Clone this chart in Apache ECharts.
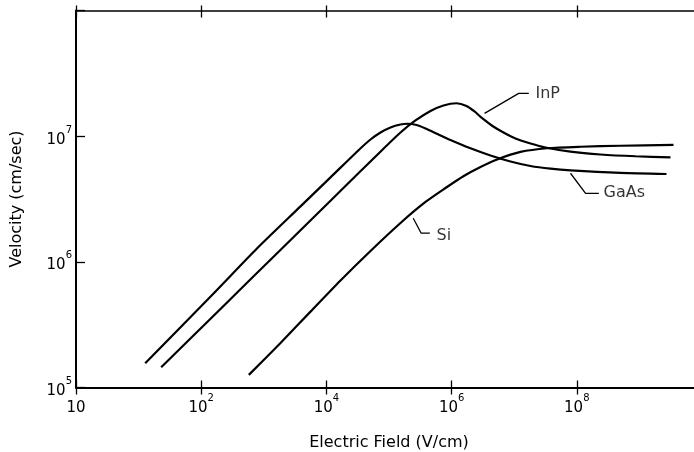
<!DOCTYPE html>
<html>
<head>
<meta charset="utf-8">
<script src="https://cdn.jsdelivr.net/npm/echarts@6/dist/echarts.min.js"></script>
<style>
html,body{margin:0;padding:0;background:#fff;}
#chart{width:694px;height:452px;}
</style>
</head>
<body>
<div id="chart"></div>
<script>
// ---- Data (Electric field V/cm, velocity cm/s) ----
const gaasE = [12.75, 159, 784.6, 3858, 1.163e4, 3.293e4, 5.064e4, 7.315e4, 1.057e5, 1.527e5, 1.975e5, 2.65e5, 3.83e5, 5.955e5, 9.60e5, 2.004e6, 4.18e6, 8.73e6, 1.821e7, 3.80e7, 7.93e7, 4.99e8, 2.71e9];
const gaasV = [1.561e5, 5.63e5, 1.283e6, 2.764e6, 4.70e6, 7.77e6, 9.41e6, 1.070e7, 1.173e7, 1.239e7, 1.255e7, 1.232e7, 1.152e7, 1.041e7, 9.33e6, 8.01e6, 7.02e6, 6.29e6, 5.79e6, 5.51e6, 5.34e6, 5.10e6, 5.00e6];

const inpE = [22.96, 203.3, 1967, 1.163e4, 7.79e4, 1.527e5, 2.65e5, 4.60e5, 7.42e5, 1.198e6, 1.730e6, 2.322e6, 3.116e6, 4.50e6, 6.75e6, 1.049e7, 1.821e7, 3.162e7, 7.93e7, 2.391e8, 8.66e8, 3.14e9];
const inpV = [1.450e5, 4.22e5, 1.283e6, 3.063e6, 7.77e6, 1.070e7, 1.333e7, 1.587e7, 1.755e7, 1.827e7, 1.739e7, 1.572e7, 1.383e7, 1.205e7, 1.070e7, 9.59e6, 8.75e6, 8.13e6, 7.53e6, 7.15e6, 6.92e6, 6.79e6];

const siE = [576, 1849, 5572, 1.680e4, 5.064e4, 1.527e5, 3.83e5, 7.99e5, 1.566e6, 2.895e6, 5.35e6, 1.261e7, 3.367e7, 1.146e8, 4.99e8, 3.505e9];
const siV = [1.26e5, 2.263e5, 4.016e5, 7.11e5, 1.221e6, 2.039e6, 2.996e6, 3.87e6, 4.825e6, 5.69e6, 6.53e6, 7.49e6, 8.01e6, 8.24e6, 8.39e6, 8.51e6];

// annotation leaders [E, v] and label anchors
const inpLeader = [[3.36e6, 1.52e7], [1.18e7, 2.19e7], [1.71e7, 2.19e7]];
const gaasLeader = [[7.93e7, 5.07e6], [1.38e8, 3.51e6], [2.25e8, 3.51e6]];
const siLeader = [[2.44e5, 2.22e6], [3.27e5, 1.69e6], [4.49e5, 1.69e6]];
const labelNames = ['InP', 'GaAs', 'Si'];
const labelE = [2.19e7, 2.67e8, 5.74e5];
const labelV = [2.19e7, 3.52e6, 1.61e6];

// tick labels
const xTickExps = [0, 2, 4, 6, 8];
const xTickText = ['10', '10{s|2}', '10{s|4}', '10{s|6}', '10{s|8}'];
const yTickExps = [5, 6, 7];
const yTickText = ['10{s|5}', '10{s|6}', '10{s|7}'];

const FONT = 'DejaVu Sans';

function zip(a, b) { return a.map((v, i) => [v, b[i]]); }

const richStyle = {
  b: { fontSize: 15, fontFamily: FONT, color: '#000', verticalAlign: 'bottom', lineHeight: 22 },
  s: { fontSize: 10, fontFamily: FONT, color: '#000', verticalAlign: 'top', lineHeight: 22 }
};

function xFmt(v) {
  const e = Math.round(Math.log10(v));
  const i = xTickExps.indexOf(e);
  if (i < 0) return '';
  return xTickText[i].replace(/^10/, '{b|10}');
}
function yFmt(v) {
  const e = Math.round(Math.log10(v));
  const i = yTickExps.indexOf(e);
  if (i < 0) return '';
  return yTickText[i].replace(/^10/, '{b|10}');
}

const xBase = { type: 'log', logBase: 100, min: 1, max: 1e10, gridIndex: 0, splitLine: { show: false }, minorTick: { show: false } };

const chart = echarts.init(document.getElementById('chart'), null, { renderer: 'canvas' });

const lineSeries = (name, data) => ({
  name, type: 'line', data, smooth: 0.25, showSymbol: false, symbol: 'none',
  lineStyle: { color: '#000', width: 2.2 }, clip: true, z: 3
});
const leaderSeries = (data) => ({
  type: 'line', data, smooth: false, showSymbol: false, symbol: 'none',
  lineStyle: { color: '#000', width: 1.3 }, z: 3
});

chart.setOption({
  animation: false,
  backgroundColor: '#fff',
  grid: { left: 76, top: 10.5, width: 626, height: 377, containLabel: false, outerBoundsMode: 'none' },
  xAxis: [
    Object.assign({}, xBase, {
      position: 'bottom',
      axisLine: { show: true, lineStyle: { color: '#000', width: 2 } },
      axisTick: { show: true, inside: true, length: 7, lineStyle: { color: '#000', width: 1.3 } },
      axisLabel: { show: true, formatter: xFmt, rich: richStyle, margin: 6, color: '#000' },
      name: 'Electric Field (V/cm)', nameLocation: 'middle', nameGap: 47,
      nameTextStyle: { fontSize: 16, fontFamily: FONT, color: '#000' }
    }),
    Object.assign({}, xBase, {
      position: 'bottom',
      axisLine: { show: false },
      axisTick: { show: true, inside: false, length: 7, lineStyle: { color: '#000', width: 1.3 } },
      axisLabel: { show: false }
    }),
    Object.assign({}, xBase, {
      position: 'top',
      axisLine: { show: true, lineStyle: { color: '#000', width: 1.6 } },
      axisTick: { show: true, inside: true, length: 7, lineStyle: { color: '#000', width: 1.3 } },
      axisLabel: { show: false }
    }),
    Object.assign({}, xBase, {
      position: 'top',
      axisLine: { show: false },
      axisTick: { show: true, inside: false, length: 5, lineStyle: { color: '#000', width: 1.3 } },
      axisLabel: { show: false }
    })
  ],
  yAxis: [{
    type: 'log', logBase: 10, min: 1e5, max: 1e8,
    splitLine: { show: false }, minorTick: { show: false },
    axisLine: { show: true, lineStyle: { color: '#000', width: 2 } },
    axisTick: { show: true, inside: true, length: 9, lineStyle: { color: '#000', width: 1.3 } },
    axisLabel: { show: true, formatter: yFmt, rich: richStyle, margin: 4, color: '#000' },
    name: 'Velocity (cm/sec)', nameLocation: 'middle', nameGap: 51, nameRotate: 90,
    nameTextStyle: { fontSize: 16, fontFamily: FONT, color: '#000' }
  }],
  series: [
    lineSeries('GaAs', zip(gaasE, gaasV)),
    lineSeries('InP', zip(inpE, inpV)),
    lineSeries('Si', zip(siE, siV)),
    leaderSeries(inpLeader),
    leaderSeries(gaasLeader),
    leaderSeries(siLeader),
    {
      type: 'scatter', symbolSize: 0, z: 4,
      data: labelNames.map((n, i) => [labelE[i], labelV[i], n]),
      label: {
        show: true, position: 'right', distance: 0,
        formatter: p => p.data[2],
        fontSize: 16, fontFamily: FONT, color: '#000'
      }
    }
  ]
});
</script>
</body>
</html>
